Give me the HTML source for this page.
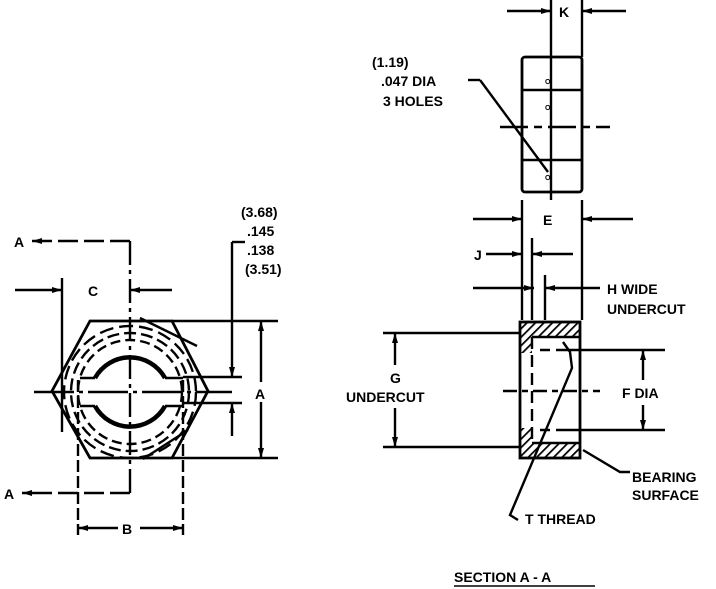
<!DOCTYPE html>
<html><head><meta charset="utf-8"><style>
html,body{margin:0;padding:0;background:#fff;}
svg{display:block;}
text{font-family:"Liberation Sans",sans-serif;font-weight:bold;fill:#000;}
</style></head><body>
<svg width="716" height="589" viewBox="0 0 716 589" xmlns="http://www.w3.org/2000/svg">
<defs>
<marker id="ar" viewBox="0 0 10 6" refX="10" refY="3" markerWidth="10" markerHeight="6" orient="auto" markerUnits="userSpaceOnUse">
<path d="M0,0 L10,3 L0,6 z" fill="#000"/></marker>
<pattern id="h" width="6" height="6" patternUnits="userSpaceOnUse" patternTransform="rotate(45)">
<rect width="6" height="6" fill="#fff"/><line x1="0" y1="0" x2="0" y2="6" stroke="#000" stroke-width="3.5"/></pattern>
</defs>
<g stroke="#000" stroke-width="2.4" fill="none">
<polygon points="90,321 172,321 208,391 172,458 90,458 52,391" stroke-width="2.8"/>
<circle cx="130" cy="392" r="52" stroke-dasharray="10,5"/>
<circle cx="130" cy="392" r="59" stroke-dasharray="12,5"/>
<circle cx="130" cy="392" r="66" stroke-dasharray="14,6"/>
<path d="M95,378 A40,40 0 0 1 165,378" stroke-width="4.5"/>
<path d="M95,406 A40,40 0 0 0 165,406" stroke-width="4.5"/>
<line x1="80" y1="378" x2="95" y2="378" stroke-width="2.5"/>
<line x1="165" y1="378" x2="183" y2="378" stroke-width="2.5"/>
<line x1="80" y1="406" x2="95" y2="406" stroke-width="2.5"/>
<line x1="165" y1="406" x2="183" y2="406" stroke-width="2.5"/>
<line x1="130" y1="241" x2="130" y2="495" stroke-dasharray="24,5,4,5"/>
<line x1="34" y1="392" x2="232" y2="392" stroke-dasharray="40,5,4,5"/>
<line x1="130" y1="241" x2="32" y2="241" marker-end="url(#ar)" stroke-dasharray="20,6"/>
<line x1="130" y1="493" x2="22" y2="493" marker-end="url(#ar)" stroke-dasharray="20,6"/>
<line x1="62" y1="278" x2="62" y2="432"/>
<line x1="15" y1="290" x2="62" y2="290" marker-end="url(#ar)"/>
<line x1="172" y1="290" x2="130" y2="290" marker-end="url(#ar)"/>
<line x1="78" y1="380" x2="78" y2="535" stroke-dasharray="12,4"/>
<line x1="183" y1="380" x2="183" y2="535" stroke-dasharray="12,4"/>
<line x1="118" y1="528" x2="78" y2="528" marker-end="url(#ar)"/>
<line x1="140" y1="528" x2="183" y2="528" marker-end="url(#ar)"/>
<line x1="172" y1="321" x2="278" y2="321"/>
<line x1="172" y1="458" x2="278" y2="458"/>
<line x1="261" y1="382" x2="261" y2="321" marker-end="url(#ar)"/>
<line x1="261" y1="402" x2="261" y2="458" marker-end="url(#ar)"/>
<line x1="232" y1="242" x2="245" y2="242"/>
<line x1="232" y1="242" x2="232" y2="377" marker-end="url(#ar)"/>
<line x1="183" y1="377" x2="242" y2="377"/>
<line x1="183" y1="403" x2="242" y2="403"/>
<line x1="232" y1="436" x2="232" y2="403" marker-end="url(#ar)"/>
<line x1="140" y1="318" x2="197" y2="346"/>
<line x1="143" y1="459" x2="188" y2="430"/>
<rect x="522" y="57" width="60" height="135" rx="3" stroke-width="2.8"/>
<line x1="522" y1="90" x2="582" y2="90"/>
<line x1="522" y1="160" x2="582" y2="160"/>
<line x1="551" y1="0" x2="551" y2="200"/>
<line x1="582" y1="0" x2="582" y2="57"/>
<line x1="500" y1="127" x2="610" y2="127" stroke-dasharray="28,6,8,6"/>
<line x1="507" y1="11" x2="551" y2="11" marker-end="url(#ar)"/>
<line x1="626" y1="11" x2="582" y2="11" marker-end="url(#ar)"/>
<line x1="468" y1="80" x2="480" y2="80"/>
<line x1="480" y1="80" x2="548" y2="172"/>
<line x1="522" y1="200" x2="522" y2="320"/>
<line x1="582" y1="200" x2="582" y2="320"/>
<line x1="473" y1="219" x2="522" y2="219" marker-end="url(#ar)"/>
<line x1="633" y1="219" x2="582" y2="219" marker-end="url(#ar)"/>
<line x1="532" y1="238" x2="532" y2="320"/>
<line x1="486" y1="254" x2="522" y2="254" marker-end="url(#ar)"/>
<line x1="573" y1="254" x2="532" y2="254" marker-end="url(#ar)"/>
<line x1="545" y1="275" x2="545" y2="320"/>
<line x1="473" y1="288" x2="534" y2="288" marker-end="url(#ar)"/>
<line x1="600" y1="288" x2="545" y2="288" marker-end="url(#ar)"/>
<rect x="521" y="323" width="58" height="14" fill="url(#h)" stroke="none"/>
<rect x="521" y="443" width="58" height="14" fill="url(#h)" stroke="none"/>
<rect x="521" y="323" width="11" height="30" fill="url(#h)" stroke="none"/>
<rect x="521" y="428" width="11" height="30" fill="url(#h)" stroke="none"/>
<rect x="520" y="322" width="60" height="136" stroke-width="2.8"/>
<line x1="532" y1="337" x2="532" y2="443" stroke-dasharray="12,6"/>
<line x1="532" y1="337" x2="580" y2="337"/>
<line x1="532" y1="443" x2="580" y2="443"/>
<line x1="383" y1="333" x2="520" y2="333"/>
<line x1="383" y1="447" x2="520" y2="447"/>
<line x1="395" y1="365" x2="395" y2="333" marker-end="url(#ar)"/>
<line x1="395" y1="408" x2="395" y2="447" marker-end="url(#ar)"/>
<line x1="540" y1="350" x2="665" y2="350" stroke-dasharray="10,6,200,0"/>
<line x1="540" y1="430" x2="665" y2="430" stroke-dasharray="10,6,200,0"/>
<line x1="643" y1="380" x2="643" y2="350" marker-end="url(#ar)"/>
<line x1="643" y1="405" x2="643" y2="430" marker-end="url(#ar)"/>
<line x1="503" y1="391" x2="600" y2="391" stroke-dasharray="14,5,6,5"/>
<path d="M563,342 L570,352 L572,368 L510,515 L518,520"/>
<path d="M583,450 L620,472 L630,472"/>
</g>
<g font-size="14">
<text x="14" y="247">A</text>
<text x="4" y="499">A</text>
<text x="88" y="296">C</text>
<text x="122" y="534">B</text>
<text x="255" y="399">A</text>
<text x="241" y="217">(3.68)</text>
<text x="247" y="236">.145</text>
<text x="247" y="255">.138</text>
<text x="245" y="274">(3.51)</text>
<text x="559" y="17">K</text>
<text x="372" y="67">(1.19)</text>
<text x="381" y="86">.047 DIA</text>
<text x="383" y="106">3 HOLES</text>
<text x="543" y="225">E</text>
<text x="474" y="260">J</text>
<text x="607" y="294">H WIDE</text>
<text x="607" y="314">UNDERCUT</text>
<text x="390" y="383">G</text>
<text x="346" y="402">UNDERCUT</text>
<text x="622" y="398">F DIA</text>
<text x="632" y="482">BEARING</text>
<text x="632" y="500">SURFACE</text>
<text x="525" y="524">T THREAD</text>
<text x="454" y="582">SECTION A - A</text>
</g>
<line x1="454" y1="586" x2="595" y2="586" stroke="#000" stroke-width="1.5"/>
<g font-size="7" fill="#000" stroke="none">
<text x="545" y="84">O</text><text x="545" y="110">O</text><text x="545" y="180">O</text>
</g>
</svg>
</body></html>
